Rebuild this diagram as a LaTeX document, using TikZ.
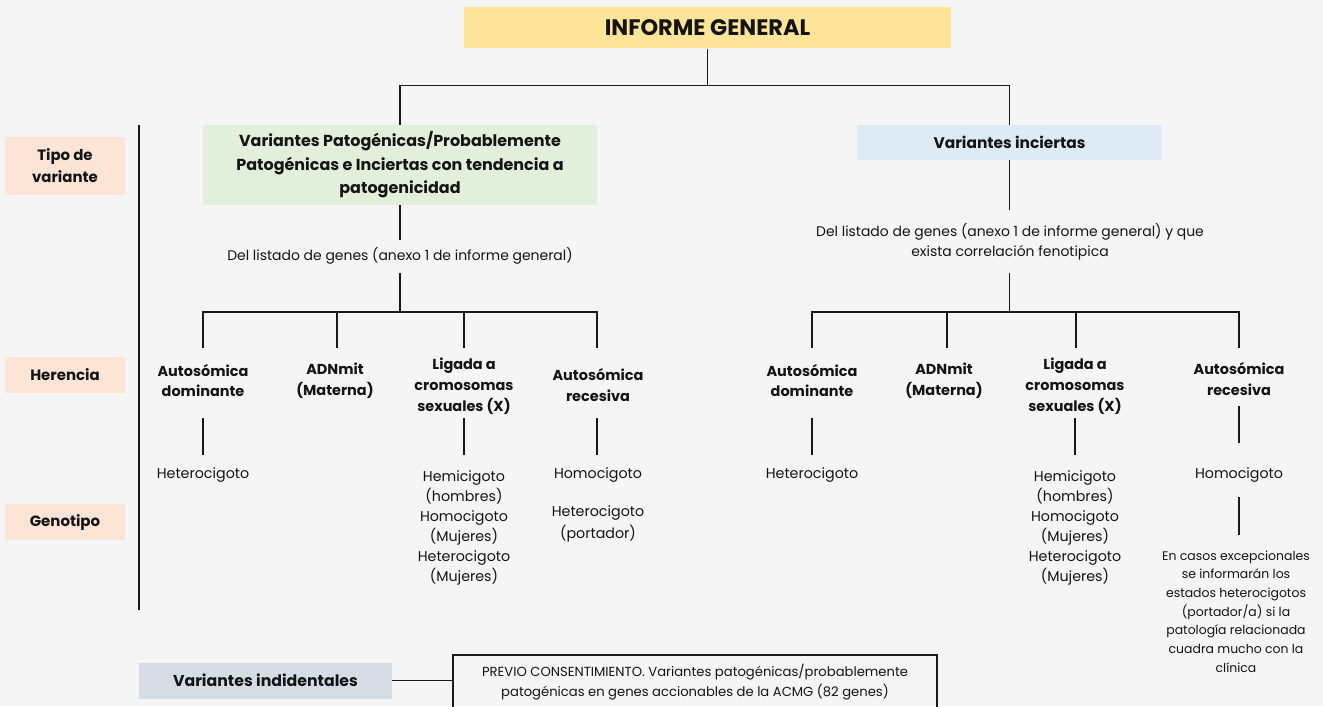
\documentclass[tikz,border=0pt]{standalone}
\usepackage{fontspec}
\setmainfont{Poppins}
\definecolor{bg}{RGB}{245,245,245}
\definecolor{yel}{RGB}{255,229,153}
\definecolor{grn}{RGB}{226,239,218}
\definecolor{blu}{RGB}{222,234,246}
\definecolor{pch}{RGB}{252,228,214}
\definecolor{gbl}{RGB}{214,220,228}
\definecolor{linec}{RGB}{25,25,25}
\definecolor{txt}{RGB}{20,20,20}
\tikzset{
  box/.style={inner sep=0pt, align=center, text=txt},
  hd/.style={inner sep=0pt, align=center, text=txt, font=\bfseries\fontsize{14.5}{21}\selectfont},
  bd/.style={inner sep=0pt, align=center, text=txt, font=\fontsize{14.3}{20}\selectfont},
  lab/.style={box, fill=pch, minimum width=120bp, font=\bfseries\fontsize{15}{22}\selectfont},
  ln/.style={draw=linec, line width=1.4bp},
}
\begin{document}
\begin{tikzpicture}[x=1bp,y=-1bp]
\useasboundingbox (0,0) rectangle (1323,706);
\fill[bg] (0,0) rectangle (1323,706);

% top
\node[box, fill=yel, minimum width=487bp, minimum height=41bp, font=\bfseries\fontsize{22.5}{26}\selectfont] (ig) at (707.5,28) {INFORME GENERAL};
\node[box, fill=grn, minimum width=394bp, minimum height=80bp, font=\bfseries\fontsize{16}{23.5}\selectfont] (pat) at (400,165) {Variantes Patogénicas/Probablemente\\Patogénicas e Inciertas con tendencia a\\patogenicidad};
\node[box, fill=blu, minimum width=305bp, minimum height=35bp, font=\bfseries\fontsize{15.5}{20}\selectfont] (inc) at (1009.5,142.5) {Variantes inciertas};

\draw[ln] (ig.south) -- ++(0,37) -| (pat.north);
\draw[ln] (ig.south) ++(0,37) -| (inc.north);

% left labels
\node[lab, minimum height=58bp] (tipo) at (65,166) {Tipo de\\variante};
\node[lab, minimum height=36bp] (her) at (65,375) {Herencia};
\node[lab, minimum height=36bp] (gen) at (65,522) {Genotipo};
\coordinate (sepT) at (139,125);
\coordinate (sepB) at (139,610);
\draw[ln] (sepT) -- (sepB);

% left branch
\node[bd, font=\fontsize{14}{20}\selectfont] (d1) at (400,256) {Del listado de genes (anexo 1 de informe general)};
\coordinate (p1) at (400,240);
\draw[ln] (pat.south) -- (p1);
\coordinate (p2) at (400,273);
\coordinate (b1) at (400,312);
\draw[ln] (p2) -- (b1);
\coordinate (la) at (203,348);
\coordinate (lb) at (337,348);
\coordinate (lc) at (464,348);
\coordinate (ld) at (597,348);
\draw[ln] (la) |- (b1) -| (ld);
\draw[ln] (b1 -| lb) -- (lb);
\draw[ln] (b1 -| lc) -- (lc);

\node[hd] (ha) at (203,380.5) {Autosómica\\dominante};
\node[hd] (hb) at (335,380.5) {ADNmit\\(Materna)};
\node[hd] (hc) at (464,386.5) {Ligada a\\cromosomas\\sexuales (X)};
\node[hd] (hd) at (598,385) {Autosómica\\recesiva};

\coordinate (la1) at (203,418); \coordinate (la2) at (203,455);
\coordinate (lc1) at (464,418); \coordinate (lc2) at (464,455);
\coordinate (ld1) at (597,418); \coordinate (ld2) at (597,455);
\draw[ln] (la1) -- (la2);
\draw[ln] (lc1) -- (lc2);
\draw[ln] (ld1) -- (ld2);

\node[bd] (ga) at (203,475) {Heterocigoto};
\node[bd] (gc) at (464,528) {Hemicigoto\\(hombres)\\Homocigoto\\(Mujeres)\\Heterocigoto\\(Mujeres)};
\node[bd] (gd1) at (598,475) {Homocigoto};
\node[bd, font=\fontsize{14.3}{22}\selectfont] (gd2) at (598,524) {Heterocigoto\\(portador)};

% right branch
\node[bd, font=\fontsize{14}{20}\selectfont] (d2) at (1010,241.5) {Del listado de genes (anexo 1 de informe general) y que\\exista correlación fenotipica};
\coordinate (q1) at (1009.5,210);
\draw[ln] (inc.south) -- (q1);
\coordinate (q2) at (1009.5,273);
\coordinate (b2) at (1009.5,312);
\draw[ln] (q2) -- (b2);
\coordinate (ra) at (812,348);
\coordinate (rb) at (947,348);
\coordinate (rc) at (1076,348);
\coordinate (rd) at (1239,348);
\draw[ln] (ra) |- (b2) -| (rd);
\draw[ln] (b2 -| rb) -- (rb);
\draw[ln] (b2 -| rc) -- (rc);

\node[hd] (ka) at (812,380.5) {Autosómica\\dominante};
\node[hd] (kb) at (944,380.5) {ADNmit\\(Materna)};
\node[hd] (kc) at (1075,386.5) {Ligada a\\cromosomas\\sexuales (X)};
\node[hd] (kd) at (1239,379) {Autosómica\\recesiva};

\coordinate (ra1) at (812,418); \coordinate (ra2) at (812,455);
\coordinate (rc1) at (1075,418); \coordinate (rc2) at (1075,455);
\coordinate (rd1) at (1239,406); \coordinate (rd2) at (1239,443);
\draw[ln] (ra1) -- (ra2);
\draw[ln] (rc1) -- (rc2);
\draw[ln] (rd1) -- (rd2);

\node[bd] (qa) at (812,475) {Heterocigoto};
\node[bd] (qc) at (1075,528) {Hemicigoto\\(hombres)\\Homocigoto\\(Mujeres)\\Heterocigoto\\(Mujeres)};
\node[bd] (qd1) at (1239,475) {Homocigoto};
\coordinate (rd3) at (1239,497); \coordinate (rd4) at (1239,535);
\draw[ln] (rd3) -- (rd4);
\node[bd, font=\fontsize{12.5}{18.8}\selectfont] (qd2) at (1236,611.5) {En casos excepcionales\\se informarán los\\estados heterocigotos\\(portador/a) si la\\patología relacionada\\cuadra mucho con la\\clínica};

% bottom
\node[box, fill=gbl, minimum width=253bp, minimum height=36bp, font=\bfseries\fontsize{15.8}{20}\selectfont] (vi) at (265.5,680.5) {Variantes indidentales};
\node[box, draw=linec, line width=2bp, minimum width=484bp, minimum height=54bp, font=\fontsize{13.2}{20}\selectfont] (pc) at (695,682) {PREVIO CONSENTIMIENTO. Variantes patogénicas/probablemente\\patogénicas en genes accionables de la ACMG (82 genes)};
\draw[ln] (vi.east) -- (vi.east -| pc.west);
\end{tikzpicture}
\end{document}
